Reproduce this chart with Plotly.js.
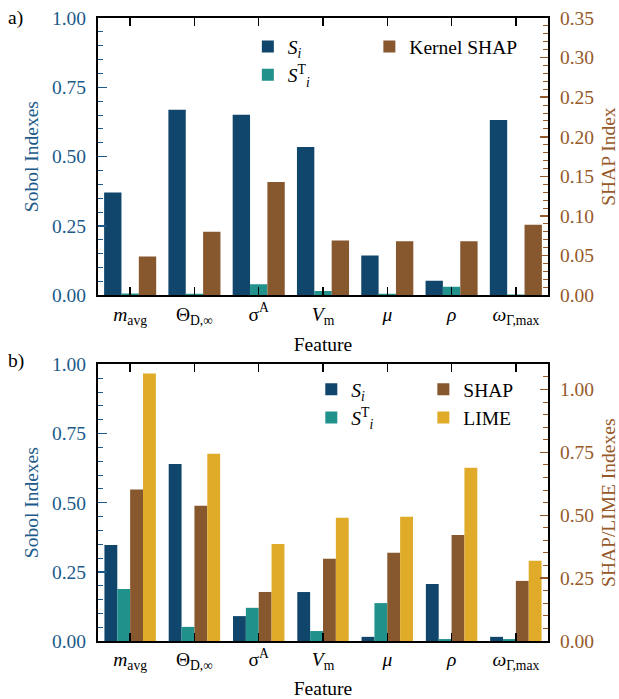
<!DOCTYPE html>
<html><head><meta charset="utf-8">
<script src="https://cdn.plot.ly/plotly-3.0.1.min.js"></script>
<style>html,body{margin:0;padding:0;background:#fff}#chart{width:619px;height:699px}</style>
</head><body><div id="chart"></div>
<script>
// ---- data ----
const features = ["<i>m</i><sub>avg</sub>", "Θ<sub>D,∞</sub>", "σ<sup>A</sup>", "<i>V</i><sub>m</sub>", "<i>μ</i>", "<i>ρ</i>", "<i>ω</i><sub>Γ,max</sub>"];
// panel a
const sobolS_a = [0.371, 0.669, 0.651, 0.535, 0.143, 0.052, 0.632];
const sobolST_a = [0.006, 0.005, 0.040, 0.015, 0.005, 0.031, 0.003];
const kernelShap_a = [0.049, 0.080, 0.143, 0.069, 0.068, 0.068, 0.089];
// panel b
const sobolS_b = [0.347, 0.640, 0.090, 0.177, 0.015, 0.206, 0.015];
const sobolST_b = [0.188, 0.051, 0.120, 0.036, 0.137, 0.007, 0.007];
const shap_b = [0.602, 0.538, 0.195, 0.327, 0.351, 0.422, 0.239];
const lime_b = [1.064, 0.745, 0.386, 0.490, 0.494, 0.689, 0.319];
const legendNames = {si: "<i>S<sub>i</sub></i>", st: "<i>S</i><sup>T</sup><sub><i>i</i></sub>"};

// ---- styles ----
const C_SI = "#10466b", C_ST = "#21918c", C_SHAP = "#87572e", C_LIME = "#e0ab28";
const C_BLUE = "#1b5a8a", C_BROWN = "#95592a";
const FONT = "Liberation Serif";
const FS = 19.5;

function bar(x, y, name, color, xa, ya, w, off, legend) {
  return {type: "bar", x: x, y: y, name: name, marker: {color: color, line: {width: 0}},
    xaxis: xa, yaxis: ya, width: w, offset: off, legend: legend, hoverinfo: "skip"};
}
const idx = features.map((_, i) => i);
const wa = 0.27, wb = 0.2;
const traces = [
  bar(idx, sobolS_a, legendNames.si, C_SI, "x", "y", wa, -0.405, "legend"),
  bar(idx, sobolST_a, legendNames.st, C_ST, "x", "y", wa, -0.135, "legend"),
  bar(idx, kernelShap_a, "Kernel SHAP", C_SHAP, "x", "y2", wa, 0.135, "legend2"),
  bar(idx, sobolS_b, legendNames.si, C_SI, "x2", "y3", wb, -0.4, "legend3"),
  bar(idx, sobolST_b, legendNames.st, C_ST, "x2", "y3", wb, -0.2, "legend3"),
  bar(idx, shap_b, "SHAP", C_SHAP, "x2", "y4", wb, 0.0, "legend4"),
  bar(idx, lime_b, "LIME", C_LIME, "x2", "y4", wb, 0.2, "legend4"),
];

function xaxis(domainAnchor, standoff) {
  return {anchor: domainAnchor, range: [-0.5, 6.5], tickmode: "array", tickvals: idx, ticktext: features,
    ticks: "inside", ticklen: 8, tickwidth: 1.5, tickcolor: "#000", showline: true, linewidth: 2, linecolor: "#000",
    mirror: "ticks", showgrid: false, zeroline: false, tickfont: {family: FONT, size: FS, color: "#000"},
    title: {text: "Feature", font: {family: FONT, size: FS, color: "#000"}, standoff: standoff}, fixedrange: true};
}
function yleft(domain, anchor, title) {
  return {domain: domain, anchor: anchor, range: [0, 1], dtick: 0.25, tick0: 0, tickformat: ".2f",
    ticks: "inside", ticklen: 9, tickwidth: 1.5, tickcolor: C_BLUE, showline: true, linewidth: 2, linecolor: "#000",
    showgrid: false, zeroline: false, ticklabelstandoff: 6,
    minor: {dtick: 0.05, ticks: "inside", ticklen: 5, tickwidth: 1, tickcolor: C_BLUE, showgrid: false},
    tickfont: {family: FONT, size: FS, color: C_BLUE},
    title: {text: title, font: {family: FONT, size: FS, color: C_BLUE}, standoff: 8}, fixedrange: true};
}
function yright(overlay, anchor, range, dtick, minorDtick, title) {
  return {overlaying: overlay, anchor: anchor, side: "right", range: range, dtick: dtick, tick0: 0, tickformat: ".2f",
    ticks: "inside", ticklen: 8, tickwidth: 1.5, tickcolor: C_BROWN, showline: true, linewidth: 2, linecolor: "#000",
    showgrid: false, zeroline: false, ticklabelstandoff: 6,
    minor: {dtick: minorDtick, ticks: "inside", ticklen: 5, tickwidth: 1, tickcolor: C_BROWN, showgrid: false},
    tickfont: {family: FONT, size: FS, color: C_BROWN},
    title: {text: title, font: {family: FONT, size: FS, color: C_BROWN}, standoff: 8}, fixedrange: true};
}
const legFont = {family: FONT, size: FS, color: "#000"};
function leg(x, y) {
  return {x: x, y: y, xanchor: "left", yanchor: "top", bgcolor: "rgba(0,0,0,0)", borderwidth: 0,
    font: legFont, orientation: "v", tracegroupgap: 0};
}

const layout = {
  width: 619, height: 699,
  margin: {l: 98, r: 71, t: 18, b: 58},
  paper_bgcolor: "#fff", plot_bgcolor: "#fff",
  font: {family: FONT, size: FS},
  barmode: "overlay",
  showlegend: true,
  xaxis: xaxis("y", 11),
  yaxis: yleft([0.555, 1], "x", "Sobol Indexes"),
  yaxis2: yright("y", "x", [0, 0.35], 0.05, 0.01, "SHAP Index"),
  xaxis2: xaxis("y3", 10),
  yaxis3: yleft([0, 0.444], "x2", "Sobol Indexes"),
  yaxis4: yright("y3", "x2", [0, 1.1], 0.25, 0.05, "SHAP/LIME Indexes"),
  legend: leg(0.333, 0.985),
  legend2: leg(0.603, 0.985),
  legend3: leg(0.474, 0.435),
  legend4: leg(0.723, 0.435),
  annotations: [
    {text: "a)", xref: "paper", yref: "paper", x: -0.205, y: 1.0, xanchor: "left", yanchor: "middle", showarrow: false, font: {family: FONT, size: FS, color: "#000"}},
    {text: "b)", xref: "paper", yref: "paper", x: -0.205, y: 0.45, xanchor: "left", yanchor: "middle", showarrow: false, font: {family: FONT, size: FS, color: "#000"}},
  ],
};
Plotly.newPlot("chart", traces, layout, {displayModeBar: false, staticPlot: true});
</script></body></html>
